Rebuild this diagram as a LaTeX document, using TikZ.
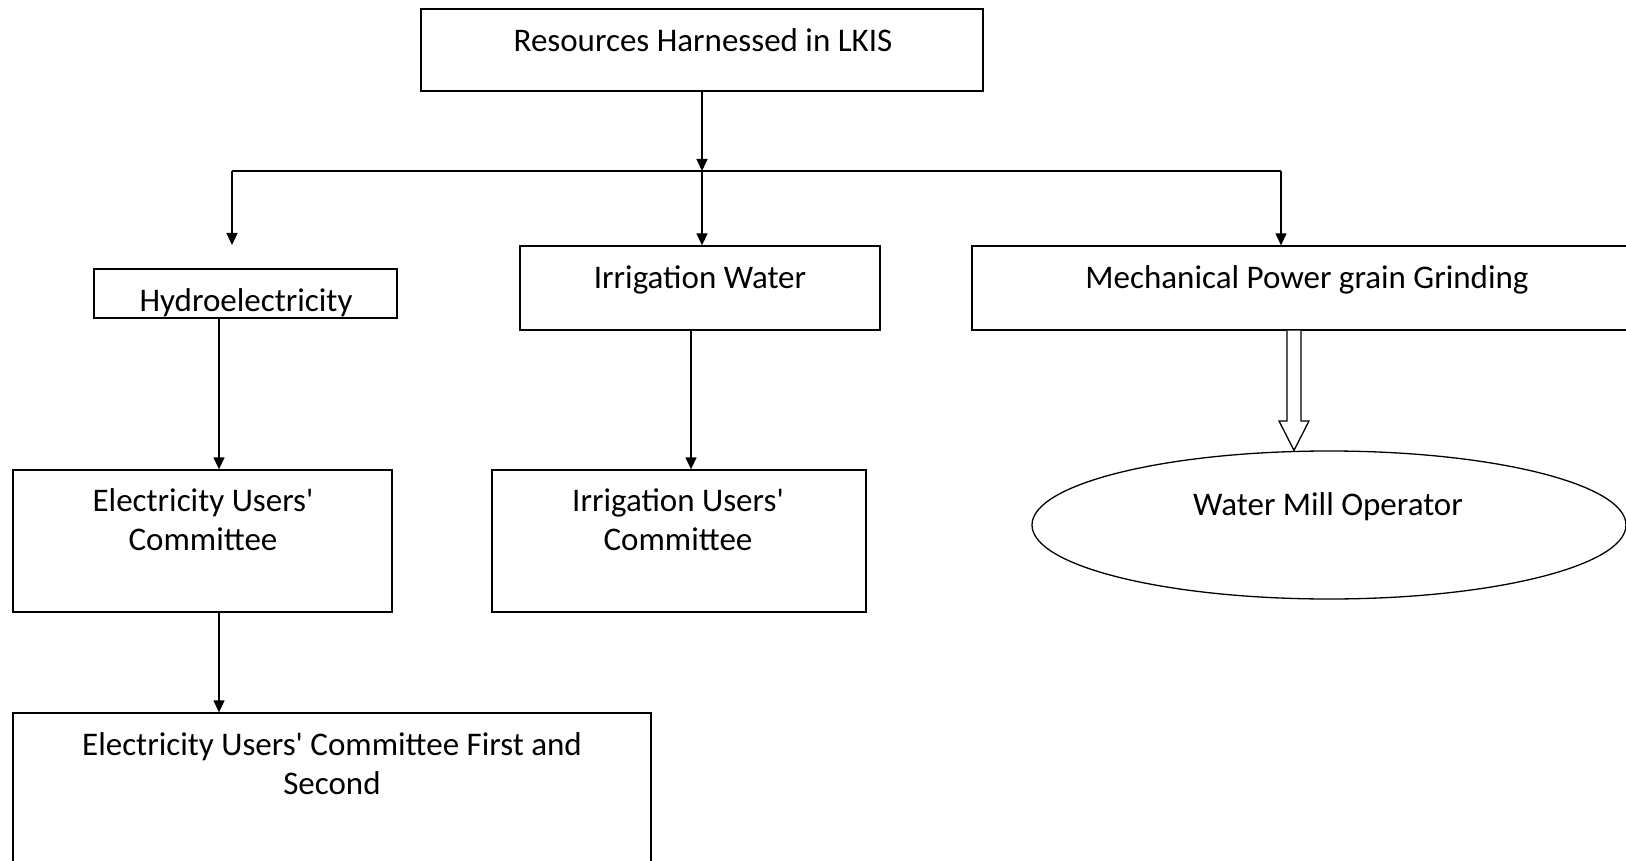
\documentclass[tikz,border=0pt]{standalone}
\usepackage{fontspec}
\setmainfont{Carlito}
\usetikzlibrary{arrows.meta,calc,shapes.geometric}
\newcommand{\apos}{\textquotesingle}
\begin{document}
\begin{tikzpicture}[x=1pt,y=-1pt,
 box/.style={draw,line width=1.3pt,fill=white,inner sep=0pt},
 txt/.style={font=\fontsize{33}{38.5}\selectfont,align=center,anchor=base,inner sep=0pt},
 conn/.style={line width=1.3pt},
 arr/.style={conn,-{Triangle[length=12pt,width=11pt]}}]
\useasboundingbox (0,0) rectangle (1626,861);
\clip (0,0) rectangle (1626,861);
% boxes
\node[box,minimum width=562pt,minimum height=82pt] (top) at (702,50) {};
\node[box,minimum width=303pt,minimum height=49pt] (hydro) at (245.5,293.5) {};
\node[box,minimum width=360pt,minimum height=84pt] (iw) at (700,288) {};
\node[box,minimum width=688pt,minimum height=84pt] (mech) at (1316,288) {};
\node[box,minimum width=379pt,minimum height=142pt] (euc) at (202.5,541) {};
\node[box,minimum width=374pt,minimum height=142pt] (iuc) at (679,541) {};
\node[box,minimum width=638pt,minimum height=167pt] (euc2) at (332,796.5) {};
\node[box,ellipse,minimum width=594pt,minimum height=148pt] (mill) at (1329,525) {};
% texts (anchor base = baseline of last line)
\node[txt] at (703,52) {Resources Harnessed in LKIS};
\node[txt] at (246,312) {Hydroelectricity};
\node[txt] at (700,288) {Irrigation Water};
\node[txt] at (1307,288) {Mechanical Power grain Grinding};
\node[txt] at (203,550) {Electricity Users\apos\\Committee};
\node[txt] at (678,550) {Irrigation Users\apos\\Committee};
\node[txt] at (1328,515) {Water Mill Operator};
\node[txt] at (332,794) {Electricity Users\apos{} Committee First and\\Second};
% connectors
\coordinate (bus) at (702,171);
\coordinate (busL) at (232,171);
\coordinate (busR) at (1281,171);
\coordinate (hydroIn) at (232,245);
\draw[arr] (top.south) -- (bus);
\draw[conn] (busL) -- (busR);
\draw[arr] (bus) -- (bus |- iw.north);
\draw[arr] (busL) -- (hydroIn);
\draw[arr] (busR) -- (busR |- mech.north);
\draw[arr] (219,0 |- hydro.south) -- (219,0 |- euc.north);
\draw[arr] (691,0 |- iw.south) -- (691,0 |- iuc.north);
\draw[arr] (219,0 |- euc.south) -- (219,0 |- euc2.north);
% block arrow
\draw[line width=1.3pt,fill=white,line join=miter]
  (1287,0 |- mech.south) -- (1287,421) -- (1279,421) -- (1294,0 |- mill.north)
  -- (1309,421) -- (1301,421) -- (1301,0 |- mech.south);
\end{tikzpicture}
\end{document}
